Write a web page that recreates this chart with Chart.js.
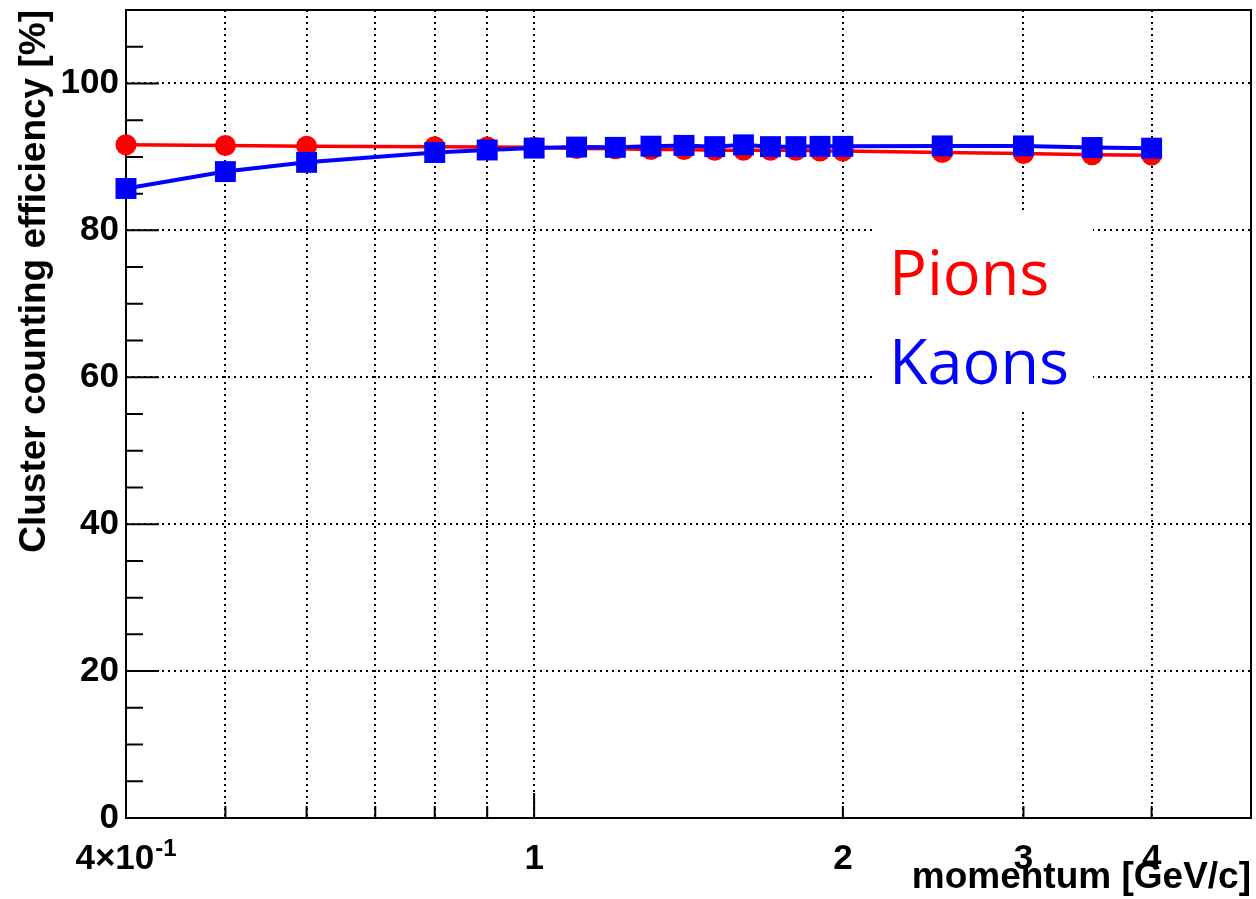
<!DOCTYPE html>
<html>
<head>
<meta charset="utf-8">
<script src="https://cdn.jsdelivr.net/npm/chart.js@4.4.0/dist/chart.umd.min.js"></script>
<style>
  html, body { margin: 0; padding: 0; background: #ffffff; }
  #wrap { width: 1256px; height: 899px; }
</style>
</head>
<body>
<div id="wrap"><canvas id="c" width="1256" height="899"></canvas></div>
<script>
// Momentum points [GeV/c]
const momentum = [0.4, 0.5, 0.6, 0.8, 0.9, 1.0, 1.1, 1.2, 1.3, 1.4, 1.5, 1.6, 1.7, 1.8, 1.9, 2.0, 2.5, 3.0, 3.5, 4.0];
// Cluster counting efficiency [%]
const pionEff = [91.65, 91.55, 91.46, 91.4, 91.35, 91.3, 91.15, 91.1, 91.0, 91.0, 90.9, 90.9, 90.9, 90.9, 90.8, 90.8, 90.6, 90.46, 90.3, 90.24];
const kaonEff = [85.7, 88.0, 89.26, 90.6, 90.94, 91.2, 91.34, 91.3, 91.46, 91.57, 91.4, 91.64, 91.4, 91.4, 91.44, 91.44, 91.5, 91.5, 91.28, 91.19];

const seriesNames = ['Pions', 'Kaons'];

// Axis ticks
const xGridValues = [0.4, 0.5, 0.6, 0.7, 0.8, 0.9, 1, 2, 3, 4];
const xLabelValues = [0.4, 1, 2, 3, 4];
const xLabelText = ['4\u00d710', '1', '2', '3', '4'];
const xLabelExp = ['-1', '', '', '', ''];
const yTickValues = [0, 20, 40, 60, 80, 100];
const yMinorValues = [5, 10, 15, 25, 30, 35, 45, 50, 55, 65, 70, 75, 85, 90, 95, 105];

const xTitle = 'momentum [GeV/c]';
const yTitle = 'Cluster counting efficiency [%]';

const AXIS_FONT = '"Liberation Sans", Arial, Helvetica, sans-serif';
const RED = '#ff0000';
const BLUE = '#0000ff';

const toPoints = (xs, ys) => xs.map((v, i) => ({ x: v, y: ys[i] }));

// Frame, inside tick marks, text box and x labels (ROOT style)
const rootStyle = {
  id: 'rootStyle',
  beforeDatasetsDraw(chart) {
    const { ctx, chartArea: a, scales: { x, y } } = chart;
    ctx.save();
    // text box
    ctx.fillStyle = '#ffffff';
    ctx.fillRect(872, 212, 221, 198);
    ctx.font = '63px "Open Sans", "Noto Sans", sans-serif';
    ctx.textAlign = 'left';
    ctx.textBaseline = 'alphabetic';
    ctx.fillStyle = RED;
    ctx.fillText(seriesNames[0], 889, 295);
    ctx.fillStyle = BLUE;
    ctx.fillText(seriesNames[1], 889, 384);

    // frame
    ctx.strokeStyle = '#000000';
    ctx.lineWidth = 2;
    ctx.strokeRect(a.left, a.top, a.right - a.left, a.bottom - a.top);

    // tick marks pointing inward
    ctx.beginPath();
    yTickValues.forEach(v => {
      const py = y.getPixelForValue(v);
      ctx.moveTo(a.left, py); ctx.lineTo(a.left + 33, py);
    });
    yMinorValues.forEach(v => {
      const py = y.getPixelForValue(v);
      ctx.moveTo(a.left, py); ctx.lineTo(a.left + 17, py);
    });
    xGridValues.forEach(v => {
      if (v === 0.4) return;
      const px = x.getPixelForValue(v);
      const len = v === 1 ? 25 : 12;
      ctx.moveTo(px, a.bottom); ctx.lineTo(px, a.bottom - len);
    });
    ctx.stroke();
    ctx.restore();
  },
  afterDraw(chart) {
    const { ctx, scales: { x } } = chart;
    ctx.save();
    ctx.fillStyle = '#000000';
    ctx.textBaseline = 'alphabetic';
    ctx.textAlign = 'left';
    xLabelValues.forEach((v, i) => {
      const px = x.getPixelForValue(v);
      ctx.font = 'bold 35px ' + AXIS_FONT;
      const w1 = ctx.measureText(xLabelText[i]).width;
      let w2 = 0;
      if (xLabelExp[i]) {
        ctx.font = 'bold 24px ' + AXIS_FONT;
        w2 = ctx.measureText(xLabelExp[i]).width + 1;
      }
      const start = px - (w1 + w2) / 2;
      ctx.font = 'bold 35px ' + AXIS_FONT;
      ctx.fillText(xLabelText[i], start, 869);
      if (xLabelExp[i]) {
        ctx.font = 'bold 24px ' + AXIS_FONT;
        ctx.fillText(xLabelExp[i], start + w1 + 1, 856);
      }
    });
    ctx.restore();
  }
};

const gridColor = (ctx, edgeValue) =>
  ctx.tick && ctx.tick.value === edgeValue ? 'rgba(0,0,0,0)' : '#000000';

new Chart(document.getElementById('c'), {
  type: 'line',
  data: {
    datasets: [
      {
        label: seriesNames[1],
        data: toPoints(momentum, kaonEff),
        borderColor: BLUE,
        backgroundColor: BLUE,
        borderWidth: 4,
        pointStyle: 'rect',
        pointRadius: 14.8,
        pointBorderWidth: 0,
        tension: 0,
        clip: false,
        order: 0
      },
      {
        label: seriesNames[0],
        data: toPoints(momentum, pionEff),
        borderColor: RED,
        backgroundColor: RED,
        borderWidth: 3.5,
        pointStyle: 'circle',
        pointRadius: 10.5,
        pointBorderWidth: 0,
        tension: 0,
        clip: false,
        order: 1
      }
    ]
  },
  options: {
    responsive: false,
    animation: false,
    devicePixelRatio: 1,
    events: [],
    layout: { autoPadding: false, padding: { top: 10, right: 5, left: 0, bottom: 0 } },
    plugins: {
      legend: { display: false },
      tooltip: { enabled: false },
      title: { display: false }
    },
    scales: {
      x: {
        type: 'logarithmic',
        min: 0.4,
        max: 5,
        bounds: 'data',
        afterBuildTicks: s => { s.ticks = xGridValues.map(v => ({ value: v })); },
        afterFit: s => {
          s.height = 81;
          s.paddingLeft = 0; s.paddingRight = 0; s.paddingTop = 0; s.paddingBottom = 0;
        },
        ticks: { display: false },
        grid: {
          drawTicks: false,
          lineWidth: 2,
          color: c => gridColor(c, 0.4)
        },
        border: { display: false, dash: [2, 4] },
        title: {
          display: true,
          text: xTitle,
          align: 'end',
          color: '#000000',
          font: { family: AXIS_FONT, size: 37, weight: 'bold', lineHeight: 1 },
          padding: { top: 0, bottom: 3 }
        }
      },
      y: {
        type: 'linear',
        min: 0,
        max: 110,
        bounds: 'data',
        afterBuildTicks: s => { s.ticks = yTickValues.map(v => ({ value: v })); },
        afterFit: s => {
          s.width = 126;
          s.paddingLeft = 0; s.paddingRight = 0; s.paddingTop = 0; s.paddingBottom = 0;
        },
        ticks: {
          color: '#000000',
          padding: 7,
          font: { family: AXIS_FONT, size: 35, weight: 'bold' },
          callback: v => String(v)
        },
        grid: {
          drawTicks: false,
          lineWidth: 2,
          color: c => gridColor(c, 0)
        },
        border: { display: false, dash: [2, 4] },
        title: {
          display: true,
          text: yTitle,
          align: 'end',
          color: '#000000',
          font: { family: AXIS_FONT, size: 37, weight: 'bold', lineHeight: 1 },
          padding: { top: 16, bottom: 0 }
        }
      }
    }
  },
  plugins: [rootStyle]
});
</script>
</body>
</html>
